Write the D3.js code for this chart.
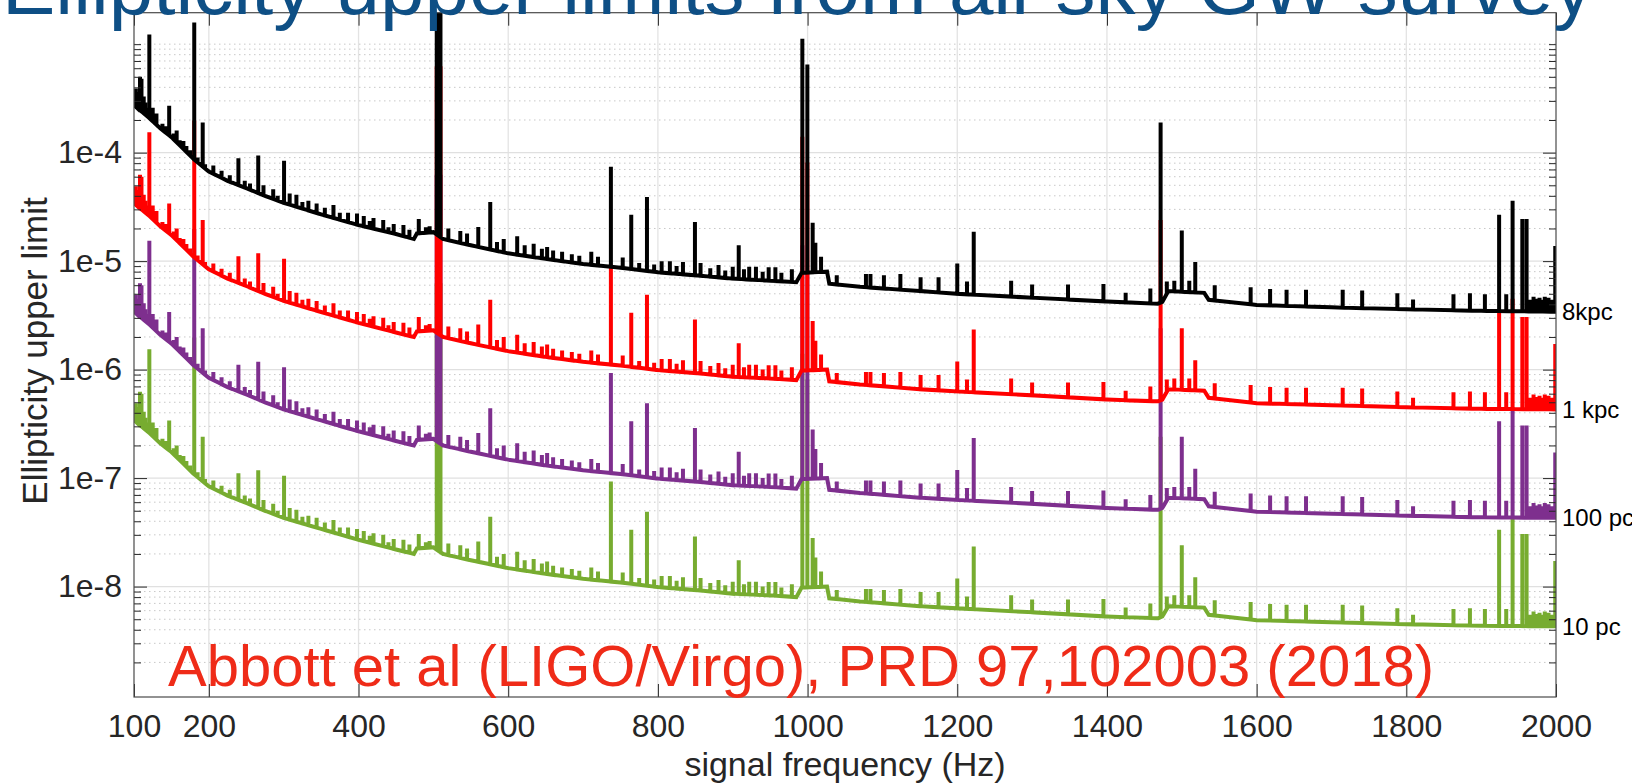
<!DOCTYPE html>
<html>
<head>
<meta charset="utf-8">
<script src="https://cdn.jsdelivr.net/npm/d3@7"></script>
<style>
  body { margin: 0; background: #fff; }
  svg { display: block; font-family: "Liberation Sans", Arial, Helvetica, sans-serif; }
</style>
</head>
<body>
<svg width="1632" height="783"></svg>
<script>
// ---- data ----
const xTicks = [100, 200, 400, 600, 800, 1000, 1200, 1400, 1600, 1800, 2000];
const yTicks = [1e-8, 1e-7, 1e-6, 1e-5, 1e-4];
const yTickLabels = ["1e-8", "1e-7", "1e-6", "1e-5", "1e-4"];
const seriesNames = ["10 pc", "100 pc", "1 kpc", "8kpc"];

// smooth floor of each curve (Hz)
const floorHz = [
  100, 105, 110, 120, 135, 150, 165, 180, 200, 225,
  250, 275, 300, 350, 400, 450, 474, 478, 500, 513,
  550, 600, 650, 700, 750, 800, 850, 900, 950, 985,
  992, 1026, 1029, 1070, 1150, 1200, 1300, 1400, 1468, 1474,
  1482, 1530, 1536, 1600, 1700, 1800, 1900, 2000];

const floor8kpc = [
  2.75e-4, 2.55e-4, 2.4e-4, 2.1e-4, 1.68e-4, 1.39e-4, 1.1e-4, 8.7e-5, 6.7e-5, 5.5e-5,
  4.7e-5, 4.0e-5, 3.45e-5, 2.7e-5, 2.15e-5, 1.78e-5, 1.6e-5, 1.8e-5, 1.85e-5, 1.6e-5,
  1.4e-5, 1.18e-5, 1.05e-5, 9.4e-6, 8.7e-6, 7.9e-6, 7.4e-6, 6.9e-6, 6.6e-6, 6.4e-6,
  7.8e-6, 8.0e-6, 6.2e-6, 5.8e-6, 5.3e-6, 5.0e-6, 4.6e-6, 4.25e-6, 4.05e-6, 4.2e-6,
  5.3e-6, 5.1e-6, 4.4e-6, 3.95e-6, 3.75e-6, 3.6e-6, 3.48e-6, 3.42e-6];

const floor1kpc = [
  3.44e-5, 3.19e-5, 3.0e-5, 2.63e-5, 2.1e-5, 1.74e-5, 1.38e-5, 1.09e-5, 8.4e-6, 6.9e-6,
  5.9e-6, 5.0e-6, 4.3e-6, 3.4e-6, 2.7e-6, 2.2e-6, 2.0e-6, 2.25e-6, 2.3e-6, 2.0e-6,
  1.75e-6, 1.48e-6, 1.31e-6, 1.18e-6, 1.09e-6, 9.9e-7, 9.3e-7, 8.6e-7, 8.3e-7, 8.0e-7,
  9.8e-7, 1.0e-6, 7.8e-7, 7.3e-7, 6.6e-7, 6.3e-7, 5.8e-7, 5.3e-7, 5.1e-7, 5.3e-7,
  6.6e-7, 6.4e-7, 5.5e-7, 4.9e-7, 4.7e-7, 4.5e-7, 4.35e-7, 4.3e-7];

const floor100pc = [
  3.44e-6, 3.19e-6, 3.0e-6, 2.63e-6, 2.1e-6, 1.74e-6, 1.38e-6, 1.09e-6, 8.4e-7, 6.9e-7,
  5.9e-7, 5.0e-7, 4.3e-7, 3.4e-7, 2.7e-7, 2.2e-7, 2.0e-7, 2.25e-7, 2.3e-7, 2.0e-7,
  1.75e-7, 1.48e-7, 1.31e-7, 1.18e-7, 1.09e-7, 9.9e-8, 9.3e-8, 8.6e-8, 8.3e-8, 8.0e-8,
  9.8e-8, 1.0e-7, 7.8e-8, 7.3e-8, 6.6e-8, 6.3e-8, 5.8e-8, 5.3e-8, 5.1e-8, 5.3e-8,
  6.6e-8, 6.4e-8, 5.5e-8, 4.9e-8, 4.7e-8, 4.5e-8, 4.35e-8, 4.3e-8];

const floor10pc = [
  3.44e-7, 3.19e-7, 3.0e-7, 2.63e-7, 2.1e-7, 1.74e-7, 1.38e-7, 1.09e-7, 8.4e-8, 6.9e-8,
  5.9e-8, 5.0e-8, 4.3e-8, 3.4e-8, 2.7e-8, 2.2e-8, 2.0e-8, 2.25e-8, 2.3e-8, 2.0e-8,
  1.75e-8, 1.48e-8, 1.31e-8, 1.18e-8, 1.09e-8, 9.9e-9, 9.3e-9, 8.6e-9, 8.3e-9, 8.0e-9,
  9.8e-9, 1.0e-8, 7.8e-9, 7.3e-9, 6.6e-9, 6.3e-9, 5.8e-9, 5.3e-9, 5.1e-9, 5.3e-9,
  6.6e-9, 6.4e-9, 5.5e-9, 4.9e-9, 4.7e-9, 4.5e-9, 4.35e-9, 4.3e-9];

// narrow lines (Hz) and their peak values
const spikeHz = [
  102.5, 106, 108, 110, 113, 120.5, 125, 130, 147, 157,
  166, 180.5, 191.8, 206, 217, 228, 239.5, 248, 266, 273,
  286, 300.5, 308, 317, 333, 344, 366.5, 386, 398, 407,
  420, 433, 447, 460, 480.5, 504.5, 509.5, 520, 536, 545,
  560, 576, 594, 612, 634, 652, 672, 685, 711, 737.2,
  753, 764.4, 785.4, 805, 816, 833.5, 849.5, 857, 881, 900,
  908, 922, 931, 948, 957, 979, 993, 999.7, 1006.8, 1010.4,
  1018, 1039, 1078, 1084, 1102, 1124, 1151, 1175, 1200, 1213,
  1222, 1272, 1300, 1348, 1395.3, 1425, 1458, 1471.7, 1480, 1490,
  1500, 1510, 1518, 1544, 1592, 1618, 1640, 1666, 1715, 1741,
  1788, 1809, 1863, 1885, 1905, 1924, 1933.5, 1942, 1955, 1960.7,
  1970, 1978, 1985, 1999];

const spike8kpc = [
  3.9e-4, 3.6e-4, 5.0e-4, 4.8e-4, 3.3e-4, 1.23e-3, 2.6e-4, 2.3e-4, 2.7e-4, 1.6e-4,
  1.28e-4, 1.58e-3, 1.9e-4, 7.6e-5, 6.8e-5, 6.2e-5, 8.9e-5, 5.5e-5, 9.4e-5, 5.0e-5,
  4.6e-5, 8.4e-5, 4.2e-5, 4.1e-5, 3.6e-5, 3.4e-5, 3.3e-5, 2.8e-5, 2.75e-5, 2.6e-5,
  2.5e-5, 2.4e-5, 2.2e-5, 2.15e-5, 2.44e-5, 5e-3, 5e-3, 2.0e-5, 1.9e-5, 1.8e-5,
  2.06e-5, 3.5e-5, 1.6e-5, 1.7e-5, 1.45e-5, 1.35e-5, 1.22e-5, 1.16e-5, 1.22e-5, 7.4e-5,
  1.08e-5, 2.68e-5, 3.9e-5, 1.0e-5, 1.0e-5, 9.8e-6, 2.3e-5, 9.6e-6, 9.2e-6, 8.9e-6,
  1.4e-5, 8.9e-6, 8.9e-6, 8.8e-6, 8.8e-6, 8.4e-6, 1.12e-3, 6.5e-4, 2.26e-5, 1.48e-5,
  1.1e-5, 7.4e-6, 7.6e-6, 7.6e-6, 7.4e-6, 7.6e-6, 7.1e-6, 7.1e-6, 9.5e-6, 6.5e-6,
  1.87e-5, 6.6e-6, 6.1e-6, 6.1e-6, 6.15e-6, 5.1e-6, 5.6e-6, 1.9e-4, 6.5e-6, 6.6e-6,
  1.92e-5, 6.6e-6, 9.8e-6, 6.0e-6, 5.75e-6, 5.55e-6, 5.45e-6, 5.45e-6, 5.45e-6, 5.35e-6,
  5.05e-6, 4.43e-6, 4.96e-6, 5.05e-6, 4.96e-6, 2.68e-5, 4.96e-6, 3.6e-5, 2.44e-5, 2.44e-5,
  4.7e-6, 4.6e-6, 4.7e-6, 1.38e-5];

const spike1kpc = [
  4.9e-5, 4.5e-5, 6.25e-5, 6.0e-5, 4.1e-5, 1.54e-4, 3.25e-5, 2.9e-5, 3.4e-5, 2.0e-5,
  1.6e-5, 1.98e-4, 2.4e-5, 9.5e-6, 8.5e-6, 7.8e-6, 1.11e-5, 6.9e-6, 1.18e-5, 6.3e-6,
  5.8e-6, 1.05e-5, 5.3e-6, 5.1e-6, 4.5e-6, 4.3e-6, 4.1e-6, 3.5e-6, 3.4e-6, 3.25e-6,
  3.1e-6, 3.0e-6, 2.75e-6, 2.7e-6, 3.05e-6, 6.25e-4, 6.25e-4, 2.5e-6, 2.4e-6, 2.25e-6,
  2.6e-6, 4.4e-6, 2.0e-6, 2.1e-6, 1.8e-6, 1.7e-6, 1.5e-6, 1.45e-6, 1.5e-6, 9.3e-6,
  1.35e-6, 3.35e-6, 4.9e-6, 1.25e-6, 1.25e-6, 1.22e-6, 2.9e-6, 1.2e-6, 1.15e-6, 1.11e-6,
  1.75e-6, 1.11e-6, 1.11e-6, 1.1e-6, 1.1e-6, 1.05e-6, 1.4e-4, 8.1e-5, 2.8e-6, 1.85e-6,
  1.38e-6, 9.3e-7, 9.5e-7, 9.5e-7, 9.3e-7, 9.5e-7, 8.9e-7, 8.9e-7, 1.19e-6, 8.1e-7,
  2.34e-6, 8.3e-7, 7.6e-7, 7.6e-7, 7.7e-7, 6.4e-7, 7.0e-7, 2.4e-5, 8.1e-7, 8.3e-7,
  2.4e-6, 8.3e-7, 1.22e-6, 7.5e-7, 7.2e-7, 6.9e-7, 6.8e-7, 6.8e-7, 6.8e-7, 6.7e-7,
  6.3e-7, 5.5e-7, 6.2e-7, 6.3e-7, 6.2e-7, 3.35e-6, 6.2e-7, 4.5e-6, 3.05e-6, 3.05e-6,
  5.9e-7, 5.75e-7, 5.9e-7, 1.72e-6];

const spike100pc = [
  4.9e-6, 4.5e-6, 6.25e-6, 6.0e-6, 4.1e-6, 1.54e-5, 3.25e-6, 2.9e-6, 3.4e-6, 2.0e-6,
  1.6e-6, 1.98e-5, 2.4e-6, 9.5e-7, 8.5e-7, 7.8e-7, 1.11e-6, 6.9e-7, 1.18e-6, 6.3e-7,
  5.8e-7, 1.05e-6, 5.3e-7, 5.1e-7, 4.5e-7, 4.3e-7, 4.1e-7, 3.5e-7, 3.4e-7, 3.25e-7,
  3.1e-7, 3.0e-7, 2.75e-7, 2.7e-7, 3.05e-7, 6.25e-5, 6.25e-5, 2.5e-7, 2.4e-7, 2.25e-7,
  2.6e-7, 4.4e-7, 2.0e-7, 2.1e-7, 1.8e-7, 1.7e-7, 1.5e-7, 1.45e-7, 1.5e-7, 9.3e-7,
  1.35e-7, 3.35e-7, 4.9e-7, 1.25e-7, 1.25e-7, 1.22e-7, 2.9e-7, 1.2e-7, 1.15e-7, 1.11e-7,
  1.75e-7, 1.11e-7, 1.11e-7, 1.1e-7, 1.1e-7, 1.05e-7, 1.4e-5, 8.1e-6, 2.8e-7, 1.85e-7,
  1.38e-7, 9.3e-8, 9.5e-8, 9.5e-8, 9.3e-8, 9.5e-8, 8.9e-8, 8.9e-8, 1.19e-7, 8.1e-8,
  2.34e-7, 8.3e-8, 7.6e-8, 7.6e-8, 7.7e-8, 6.4e-8, 7.0e-8, 2.4e-6, 8.1e-8, 8.3e-8,
  2.4e-7, 8.3e-8, 1.22e-7, 7.5e-8, 7.2e-8, 6.9e-8, 6.8e-8, 6.8e-8, 6.8e-8, 6.7e-8,
  6.3e-8, 5.5e-8, 6.2e-8, 6.3e-8, 6.2e-8, 3.35e-7, 6.2e-8, 4.5e-7, 3.05e-7, 3.05e-7,
  5.9e-8, 5.75e-8, 5.9e-8, 1.72e-7];

const spike10pc = [
  4.9e-7, 4.5e-7, 6.25e-7, 6.0e-7, 4.1e-7, 1.54e-6, 3.25e-7, 2.9e-7, 3.4e-7, 2.0e-7,
  1.6e-7, 1.98e-6, 2.4e-7, 9.5e-8, 8.5e-8, 7.8e-8, 1.11e-7, 6.9e-8, 1.18e-7, 6.3e-8,
  5.8e-8, 1.05e-7, 5.3e-8, 5.1e-8, 4.5e-8, 4.3e-8, 4.1e-8, 3.5e-8, 3.4e-8, 3.25e-8,
  3.1e-8, 3.0e-8, 2.75e-8, 2.7e-8, 3.05e-8, 6.25e-6, 6.25e-6, 2.5e-8, 2.4e-8, 2.25e-8,
  2.6e-8, 4.4e-8, 2.0e-8, 2.1e-8, 1.8e-8, 1.7e-8, 1.5e-8, 1.45e-8, 1.5e-8, 9.3e-8,
  1.35e-8, 3.35e-8, 4.9e-8, 1.25e-8, 1.25e-8, 1.22e-8, 2.9e-8, 1.2e-8, 1.15e-8, 1.11e-8,
  1.75e-8, 1.11e-8, 1.11e-8, 1.1e-8, 1.1e-8, 1.05e-8, 1.4e-6, 8.1e-7, 2.8e-8, 1.85e-8,
  1.38e-8, 9.3e-9, 9.5e-9, 9.5e-9, 9.3e-9, 9.5e-9, 8.9e-9, 8.9e-9, 1.19e-8, 8.1e-9,
  2.34e-8, 8.3e-9, 7.6e-9, 7.6e-9, 7.7e-9, 6.4e-9, 7.0e-9, 2.4e-7, 8.1e-9, 8.3e-9,
  2.4e-8, 8.3e-9, 1.22e-8, 7.5e-9, 7.2e-9, 6.9e-9, 6.8e-9, 6.8e-9, 6.8e-9, 6.7e-9,
  6.3e-9, 5.5e-9, 6.2e-9, 6.3e-9, 6.2e-9, 3.35e-8, 6.2e-9, 4.5e-8, 3.05e-8, 3.05e-8,
  5.9e-9, 5.75e-9, 5.9e-9, 1.72e-8];

// small comb bumps riding on the floor (the noisy band)
const bumpHz = [
  101, 104, 115, 117, 128, 138, 142, 153, 161, 170,
  175, 185, 195, 255, 292, 325, 355, 375, 415, 440,
  468, 490, 495, 585, 622, 645, 660, 695, 720, 775,
  795, 825, 870, 890, 915, 940, 965, 1966, 1974, 1982,
  1990, 1994];

const bump8kpc = [
  3.2e-4, 3.3e-4, 2.9e-4, 2.6e-4, 2.3e-4, 1.85e-4, 1.75e-4, 1.5e-4, 1.3e-4, 1.15e-4,
  1.05e-4, 9.0e-5, 7.8e-5, 5.2e-5, 4.0e-5, 3.5e-5, 3.1e-5, 2.8e-5, 2.35e-5, 2.05e-5,
  1.95e-5, 2.05e-5, 2.1e-5, 1.5e-5, 1.4e-5, 1.3e-5, 1.25e-5, 1.12e-5, 1.1e-5, 9.6e-6,
  9.3e-6, 9.0e-6, 8.6e-6, 8.2e-6, 8.4e-6, 8.0e-6, 7.8e-6, 4.4e-6, 4.5e-6, 4.4e-6,
  4.6e-6, 4.4e-6];

const bump1kpc = [
  4.0e-5, 4.1e-5, 3.6e-5, 3.25e-5, 2.9e-5, 2.3e-5, 2.2e-5, 1.88e-5, 1.63e-5, 1.44e-5,
  1.31e-5, 1.13e-5, 9.8e-6, 6.5e-6, 5.0e-6, 4.4e-6, 3.9e-6, 3.5e-6, 2.94e-6, 2.56e-6,
  2.44e-6, 2.56e-6, 2.63e-6, 1.88e-6, 1.75e-6, 1.63e-6, 1.56e-6, 1.4e-6, 1.38e-6, 1.2e-6,
  1.16e-6, 1.13e-6, 1.08e-6, 1.03e-6, 1.05e-6, 1.0e-6, 9.8e-7, 5.5e-7, 5.6e-7, 5.5e-7,
  5.75e-7, 5.5e-7];

const bump100pc = [
  4.0e-6, 4.1e-6, 3.6e-6, 3.25e-6, 2.9e-6, 2.3e-6, 2.2e-6, 1.88e-6, 1.63e-6, 1.44e-6,
  1.31e-6, 1.13e-6, 9.8e-7, 6.5e-7, 5.0e-7, 4.4e-7, 3.9e-7, 3.5e-7, 2.94e-7, 2.56e-7,
  2.44e-7, 2.56e-7, 2.63e-7, 1.88e-7, 1.75e-7, 1.63e-7, 1.56e-7, 1.4e-7, 1.38e-7, 1.2e-7,
  1.16e-7, 1.13e-7, 1.08e-7, 1.03e-7, 1.05e-7, 1.0e-7, 9.8e-8, 5.5e-8, 5.6e-8, 5.5e-8,
  5.75e-8, 5.5e-8];

const bump10pc = [
  4.0e-7, 4.1e-7, 3.6e-7, 3.25e-7, 2.9e-7, 2.3e-7, 2.2e-7, 1.88e-7, 1.63e-7, 1.44e-7,
  1.31e-7, 1.13e-7, 9.8e-8, 6.5e-8, 5.0e-8, 4.4e-8, 3.9e-8, 3.5e-8, 2.94e-8, 2.56e-8,
  2.44e-8, 2.56e-8, 2.63e-8, 1.88e-8, 1.75e-8, 1.63e-8, 1.56e-8, 1.4e-8, 1.38e-8, 1.2e-8,
  1.16e-8, 1.13e-8, 1.08e-8, 1.03e-8, 1.05e-8, 1.0e-8, 9.8e-9, 5.5e-9, 5.6e-9, 5.5e-9,
  5.75e-9, 5.5e-9];

// ---- styling ----
const colors = {"10 pc": "#77ac30", "100 pc": "#7e2f8e", "1 kpc": "#ff0000", "8kpc": "#000000"};
const floors = {"10 pc": floor10pc, "100 pc": floor100pc, "1 kpc": floor1kpc, "8kpc": floor8kpc};
const spikes = {"10 pc": spike10pc, "100 pc": spike100pc, "1 kpc": spike1kpc, "8kpc": spike8kpc};
const bumps = {"10 pc": bump10pc, "100 pc": bump100pc, "1 kpc": bump1kpc, "8kpc": bump8kpc};
const axisColor = "#262626";

const svg = d3.select("svg");
const x = d3.scaleLinear().domain([100, 2000]).range([134, 1556]);
const y = d3.scaleLog().domain([9.6e-10, 1.95e-3]).range([697, 12.7]);
const [x0, x1] = x.range();
const [yb, yt] = y.range();

// minor log grid values (2..9 per decade, plus 1e-3 which has no label)
let minorY = [];
for (let e = -10; e <= -3; e++) {
  for (let m = 1; m <= 9; m++) {
    const v = m * Math.pow(10, e);
    if (m === 1 && e !== -3) continue;
    if (v > y.domain()[0] && v < y.domain()[1]) minorY.push(v);
  }
}

// grid
const grid = svg.append("g");
grid.selectAll(".vgrid").data(xTicks.slice(1, -1)).enter().append("line")
  .attr("x1", d => x(d)).attr("x2", d => x(d)).attr("y1", yt).attr("y2", yb)
  .attr("stroke", "#e3e3e3").attr("stroke-width", 1.3);
grid.selectAll(".mgrid").data(minorY).enter().append("line")
  .attr("x1", x0).attr("x2", x1).attr("y1", d => y(d)).attr("y2", d => y(d))
  .attr("stroke", "#c8c8c8").attr("stroke-width", 1).attr("stroke-dasharray", "1.5,3.5");
grid.selectAll(".hgrid").data(yTicks).enter().append("line")
  .attr("x1", x0).attr("x2", x1).attr("y1", d => y(d)).attr("y2", d => y(d))
  .attr("stroke", "#e0e0e0").attr("stroke-width", 1.3);

// curves
svg.append("clipPath").attr("id", "plotclip").append("rect")
  .attr("x", x0).attr("y", yt).attr("width", x1 - x0).attr("height", yb - yt);

function curvePoints(name) {
  const fl = floors[name];
  const lineHz = spikeHz.concat(bumpHz);
  const tops = spikes[name].concat(bumps[name]);
  // each narrow line stands on the drawn floor
  const floorLog = d3.scaleLinear().domain(floorHz).range(fl.map(v => Math.log10(v)));
  const pts = floorHz.map((f, i) => ({f: f, v: fl[i], k: 0}));
  lineHz.forEach((f, i) => {
    const base = Math.pow(10, floorLog(f));
    pts.push({f: f, v: base, k: 1}, {f: f, v: tops[i], k: 2}, {f: f, v: base, k: 3});
  });
  pts.sort((a, b) => a.f - b.f || a.k - b.k);
  return pts;
}

const line = d3.line().x(d => x(d.f)).y(d => y(d.v));

svg.append("g").attr("clip-path", "url(#plotclip)")
  .selectAll("path").data(seriesNames).enter().append("path")
  .attr("d", d => line(curvePoints(d)))
  .attr("fill", "none")
  .attr("stroke", d => colors[d])
  .attr("stroke-width", 4);

// axes
function styleAxis(g) {
  g.select(".domain").remove();
  g.selectAll("line").attr("stroke", axisColor).attr("stroke-width", 1);
  g.attr("font-family", null).attr("font-size", 32);
  g.selectAll("text").attr("fill", axisColor);
}

svg.append("g").attr("transform", `translate(0,${yb})`)
  .call(d3.axisBottom(x).tickValues(xTicks).tickFormat(d3.format("d"))
    .tickSizeInner(-13).tickSizeOuter(0).tickPadding(17))
  .call(styleAxis);
svg.append("g").attr("transform", `translate(0,${yt})`)
  .call(d3.axisTop(x).tickValues(xTicks).tickSizeInner(-13).tickSizeOuter(0).tickFormat(""))
  .call(styleAxis);
svg.append("g").attr("transform", `translate(${x0},0)`)
  .call(d3.axisLeft(y).tickValues(yTicks).tickFormat((d, i) => yTickLabels[i])
    .tickSizeInner(-13).tickSizeOuter(0).tickPadding(12))
  .call(styleAxis);
svg.append("g").attr("transform", `translate(${x0},0)`)
  .call(d3.axisLeft(y).tickValues(minorY).tickFormat("").tickSizeInner(-7).tickSizeOuter(0))
  .call(styleAxis);
svg.append("g").attr("transform", `translate(${x1},0)`)
  .call(d3.axisRight(y).tickValues(yTicks).tickFormat("").tickSizeInner(-13).tickSizeOuter(0))
  .call(styleAxis);
svg.append("g").attr("transform", `translate(${x1},0)`)
  .call(d3.axisRight(y).tickValues(minorY).tickFormat("").tickSizeInner(-7).tickSizeOuter(0))
  .call(styleAxis);

svg.append("rect").attr("x", x0).attr("y", yt).attr("width", x1 - x0).attr("height", yb - yt)
  .attr("fill", "none").attr("stroke", "#4a4a4a").attr("stroke-width", 1.2);

// axis labels
svg.append("text").attr("x", (x0 + x1) / 2).attr("y", 776)
  .attr("text-anchor", "middle").attr("font-size", 34).attr("fill", axisColor)
  .text("signal frequency (Hz)");
svg.append("text").attr("transform", "translate(47,351) rotate(-90)")
  .attr("text-anchor", "middle").attr("font-size", 35).attr("fill", axisColor)
  .text("Ellipticity upper limit");

// distance labels at the right end of each curve
svg.selectAll(".dist").data(seriesNames).enter().append("text")
  .attr("x", x1 + 6)
  .attr("y", d => y(floors[d][floors[d].length - 1]))
  .attr("dy", "0.35em")
  .attr("font-size", 24).attr("fill", "#000")
  .text(d => d);

// citation
svg.append("text").attr("x", 168).attr("y", 686)
  .attr("font-size", 58).attr("fill", "#ef2b18")
  .text("Abbott et al (LIGO/Virgo), PRD 97,102003 (2018)");

// slide title (top is cut off in the original)
svg.append("text").attr("x", 2).attr("y", 14)
  .attr("font-size", 80).attr("fill", "#0e4f85")
  .text("Ellipticity upper limits from all-sky GW survey");
</script>
</body>
</html>
